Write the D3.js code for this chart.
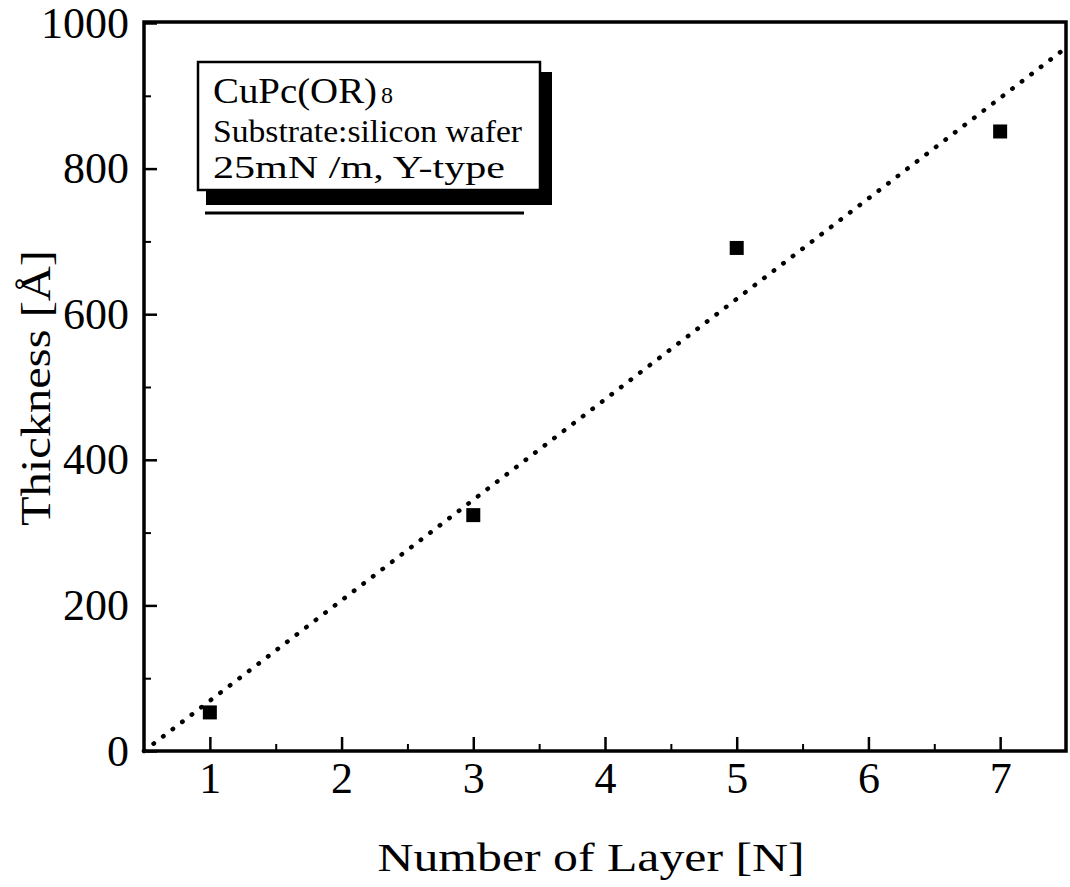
<!DOCTYPE html>
<html><head><meta charset="utf-8">
<script src="https://cdn.jsdelivr.net/npm/d3@7"></script>
<style>
html,body{margin:0;padding:0;background:#fff;}
svg{display:block;}
text{font-family:"Liberation Serif","DejaVu Serif",serif;fill:#000;}
</style></head>
<body>
<svg id="chart" width="1070" height="887"></svg>
<script>
// ---- data ----
const layers = [1, 3, 5, 7];
const thickness = [53, 324, 691, 851];
const fitX = [0.5, 7.5];
const fitY = [0, 966];
const xTicks = [1, 2, 3, 4, 5, 6, 7];
const yTicks = [0, 200, 400, 600, 800, 1000];
const legendLines = ["CuPc(OR)", "Substrate:silicon wafer", "25mN /m, Y-type"];
const xTitle = "Number of Layer [N]";
const yTitle = "Thickness [Å]";

const svg = d3.select("#chart");
const L = 144, R = 1066, T = 23, B = 751;
const x = d3.scaleLinear().domain([0.5, 7.5]).range([L, R]);
const y = d3.scaleLinear().domain([0, 1000]).range([B, T]);

// minor ticks
const xMinor = d3.range(1.5, 7.5, 1);
const yMinor = d3.range(100, 1000, 200);

const g = svg.append("g");

// x axis (ticks inward)
const xAxis = d3.axisBottom(x).tickValues(xTicks).tickSize(-14).tickPadding(0).tickFormat(d3.format("d"));
const gx = g.append("g").attr("transform", `translate(0,${B})`).call(xAxis);
gx.select(".domain").remove();
gx.selectAll(".tick line").attr("stroke", "#000").attr("stroke-width", 2.5);
gx.selectAll(".tick text").attr("font-size", 44).attr("dy", 0).attr("y", 42).style("font-family", "Liberation Serif");
g.append("g").attr("transform", `translate(0,${B})`)
  .call(d3.axisBottom(x).tickValues(xMinor).tickSize(-7).tickFormat(""))
  .call(s => s.select(".domain").remove())
  .selectAll(".tick line").attr("stroke", "#000").attr("stroke-width", 2);

// y axis
const yAxis = d3.axisLeft(y).tickValues(yTicks).tickSize(-13).tickPadding(0).tickFormat(d3.format("d"));
const gy = g.append("g").attr("transform", `translate(${L},0)`).call(yAxis);
gy.select(".domain").remove();
gy.selectAll(".tick line").attr("stroke", "#000").attr("stroke-width", 2.5);
gy.selectAll(".tick text").attr("font-size", 44).attr("x", -15).attr("dy", "0.32em").style("font-family", "Liberation Serif");
g.append("g").attr("transform", `translate(${L},0)`)
  .call(d3.axisLeft(y).tickValues(yMinor).tickSize(-7).tickFormat(""))
  .call(s => s.select(".domain").remove())
  .selectAll(".tick line").attr("stroke", "#000").attr("stroke-width", 2);

// frame
g.append("rect").attr("x", L).attr("y", T - 1).attr("width", R - L).attr("height", B - T + 1)
  .attr("fill", "none").attr("stroke", "#000").attr("stroke-width", 3.5);

// fit line (dotted)
const line = d3.line().x(d => x(d[0])).y(d => y(d[1]));
g.append("path").datum(fitX.map((d, i) => [d, fitY[i]]))
  .attr("d", line).attr("fill", "none").attr("stroke", "#000")
  .attr("stroke-width", 4.5).attr("stroke-linecap", "round").attr("stroke-dasharray", "0.5,11.5");

// data squares
const sz = 14;
g.selectAll("rect.pt").data(layers).join("rect").attr("class", "pt")
  .attr("x", d => x(d) - sz / 2).attr("y", (d, i) => y(thickness[i]) - sz / 2)
  .attr("width", sz).attr("height", sz).attr("fill", "#000");

// legend box with shadow
const lg = svg.append("g");
lg.append("rect").attr("x", 206).attr("y", 72).attr("width", 346).attr("height", 133).attr("fill", "#000");
lg.append("rect").attr("x", 198).attr("y", 62).attr("width", 342).attr("height", 128)
  .attr("fill", "#fff").attr("stroke", "#000").attr("stroke-width", 2.5);
lg.append("line").attr("x1", 205).attr("x2", 524).attr("y1", 213).attr("y2", 213)
  .attr("stroke", "#000").attr("stroke-width", 3);
const t1 = lg.append("text").attr("x", 213).attr("y", 103).attr("font-size", 36);
t1.append("tspan").attr("textLength", 164).attr("lengthAdjust", "spacingAndGlyphs").text(legendLines[0]);
t1.append("tspan").attr("font-size", 24).attr("dx", 4).text("8");
lg.append("text").attr("x", 213).attr("y", 142).attr("font-size", 32)
  .attr("textLength", 309).attr("lengthAdjust", "spacingAndGlyphs").text(legendLines[1]);
lg.append("text").attr("x", 213).attr("y", 178).attr("font-size", 32)
  .attr("textLength", 292).attr("lengthAdjust", "spacingAndGlyphs").text(legendLines[2]);

// axis titles
svg.append("text").attr("x", 591).attr("y", 871).attr("text-anchor", "middle")
  .attr("font-size", 40).attr("textLength", 427).attr("lengthAdjust", "spacingAndGlyphs").text(xTitle);
svg.append("text").attr("transform", "translate(50,388) rotate(-90)").attr("text-anchor", "middle")
  .attr("font-size", 42).attr("textLength", 276).attr("lengthAdjust", "spacingAndGlyphs").text(yTitle);
</script>
</body></html>
